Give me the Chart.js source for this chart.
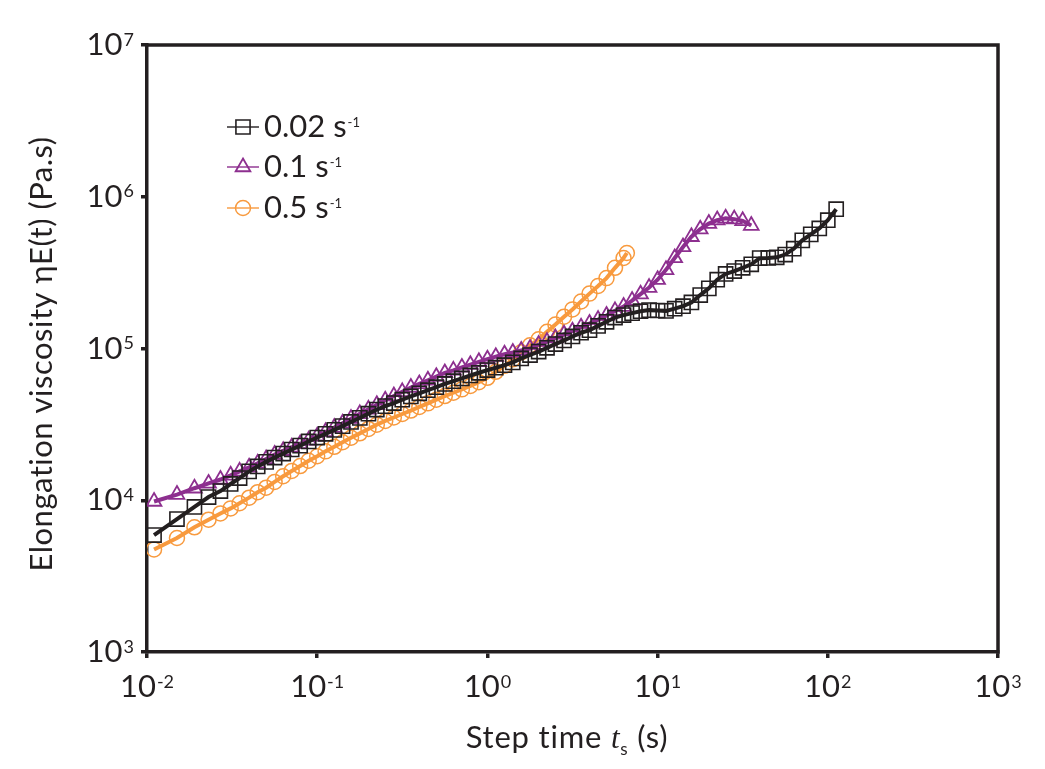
<!DOCTYPE html>
<html>
<head>
<meta charset="utf-8">
<script src="https://cdn.jsdelivr.net/npm/chart.js@4.4.1/dist/chart.umd.min.js"></script>
<style>
  html, body { margin: 0; padding: 0; background: #fff; }
  #wrap { width: 1045px; height: 769px; position: relative; }
</style>
</head>
<body>
<div id="wrap"><canvas id="viscChart"></canvas></div>
<script>
const FONT = 'Lato, "DejaVu Sans", sans-serif';
const INK = '#231f20';

// step time (s) / elongation viscosity (Pa.s)
const time002 = [0.011, 0.015, 0.019, 0.023, 0.027, 0.031, 0.035,
  0.0398, 0.0447, 0.0501, 0.0562, 0.0631, 0.0708, 0.0794, 0.0891,
  0.1, 0.112, 0.126, 0.141, 0.158, 0.178, 0.2, 0.224, 0.251, 0.282, 0.316, 0.355, 0.398, 0.447, 0.501, 0.562, 0.631, 0.708, 0.794, 0.891,
  1.0, 1.12, 1.26, 1.41, 1.58, 1.78, 2.0, 2.24, 2.51, 2.82, 3.16, 3.55, 3.98, 4.47, 5.01, 5.62, 6.31, 7.08, 7.94, 8.91,
  10, 11.2, 12.6, 14.1, 15.8, 17.8, 20, 22.4, 25.1, 28.2, 31.6, 35.5, 39.8, 44.7, 50.1, 56.2, 63.1, 70.8, 79.4, 89.1,
  100, 112];
const visc002 = [5.90e3, 7.52e3, 9.03e3, 1.05e4, 1.15e4, 1.28e4, 1.40e4,
  1.55e4, 1.67e4, 1.79e4, 1.91e4, 2.03e4, 2.16e4, 2.29e4, 2.44e4,
  2.59e4, 2.74e4, 2.91e4, 3.08e4, 3.28e4, 3.49e4, 3.72e4, 3.96e4, 4.17e4, 4.37e4, 4.60e4, 4.83e4, 5.07e4, 5.31e4, 5.56e4, 5.84e4, 6.09e4, 6.35e4, 6.64e4, 6.92e4,
  7.21e4, 7.47e4, 7.76e4, 8.10e4, 8.60e4, 9.06e4, 9.54e4, 1.01e5, 1.07e5, 1.13e5, 1.20e5, 1.27e5, 1.32e5, 1.41e5, 1.50e5, 1.60e5, 1.66e5, 1.71e5, 1.76e5, 1.79e5,
  1.78e5, 1.77e5, 1.83e5, 1.90e5, 2.01e5, 2.25e5, 2.49e5, 2.84e5, 3.10e5, 3.24e5, 3.40e5, 3.59e5, 3.94e5, 3.95e5, 3.99e5, 4.16e5, 4.55e5, 5.16e5, 5.65e5, 6.18e5,
  7.01e5, 8.28e5];

const time01 = [0.011, 0.015, 0.019, 0.023, 0.027, 0.031, 0.035,
  0.0398, 0.0447, 0.0501, 0.0562, 0.0631, 0.0708, 0.0794, 0.0891,
  0.1, 0.112, 0.126, 0.141, 0.158, 0.178, 0.2, 0.224, 0.251, 0.282, 0.316, 0.355, 0.398, 0.447, 0.501, 0.562, 0.631, 0.708, 0.794, 0.891,
  1.0, 1.12, 1.26, 1.41, 1.58, 1.78, 2.0, 2.24, 2.51, 2.82, 3.16, 3.55, 3.98, 4.47, 5.01, 5.62, 6.31, 7.08, 7.94, 8.91,
  10, 11.2, 12.6, 14.1, 15.8, 17.8, 20, 22.4, 25.1, 28.2, 31.6, 35.5];
const visc01 = [9.81e3, 1.09e4, 1.20e4, 1.29e4, 1.37e4, 1.46e4, 1.55e4,
  1.65e4, 1.75e4, 1.87e4, 2.00e4, 2.12e4, 2.23e4, 2.35e4, 2.48e4,
  2.64e4, 2.82e4, 3.01e4, 3.22e4, 3.45e4, 3.71e4, 3.97e4, 4.26e4, 4.56e4, 4.86e4, 5.18e4, 5.53e4, 5.84e4, 6.17e4, 6.52e4, 6.90e4, 7.18e4, 7.50e4, 7.82e4, 8.17e4,
  8.50e4, 8.83e4, 9.17e4, 9.41e4, 9.70e4, 1.00e5, 1.06e5, 1.11e5, 1.17e5, 1.24e5, 1.30e5, 1.38e5, 1.46e5, 1.55e5, 1.65e5, 1.77e5, 1.89e5, 2.07e5, 2.28e5, 2.52e5,
  2.84e5, 3.30e5, 3.95e5, 4.67e5, 5.45e5, 6.11e5, 6.66e5, 7.02e5, 7.21e5, 7.12e5, 6.94e5, 6.46e5];

const time05 = [0.011, 0.015, 0.019, 0.023, 0.027, 0.031, 0.035,
  0.0398, 0.0447, 0.0501, 0.0562, 0.0631, 0.0708, 0.0794, 0.0891,
  0.1, 0.112, 0.126, 0.141, 0.158, 0.178, 0.2, 0.224, 0.251, 0.282, 0.316, 0.355, 0.398, 0.447, 0.501, 0.562, 0.631, 0.708, 0.794, 0.891,
  1.0, 1.12, 1.26, 1.41, 1.58, 1.78, 2.0, 2.24, 2.51, 2.82, 3.16, 3.55, 3.98, 4.47, 5.01, 5.62, 6.31, 6.6];
const visc05 = [4.74e3, 5.64e3, 6.63e3, 7.45e3, 8.19e3, 8.84e3, 9.56e3,
  1.04e4, 1.13e4, 1.21e4, 1.32e4, 1.44e4, 1.56e4, 1.68e4, 1.82e4,
  1.95e4, 2.10e4, 2.25e4, 2.41e4, 2.58e4, 2.76e4, 2.95e4, 3.15e4, 3.33e4, 3.51e4, 3.70e4, 3.90e4, 4.12e4, 4.35e4, 4.60e4, 4.86e4, 5.11e4, 5.38e4, 5.66e4, 6.00e4,
  6.41e4, 7.02e4, 7.69e4, 8.48e4, 9.44e4, 1.05e5, 1.15e5, 1.29e5, 1.44e5, 1.62e5, 1.81e5, 2.04e5, 2.30e5, 2.58e5, 2.91e5, 3.40e5, 3.95e5, 4.26e5];

const rateLabels = ['0.02', '0.1', '0.5'];   // strain rate, s^-1
const xTickExponents = [-2, -1, 0, 1, 2, 3];
const yTickExponents = [3, 4, 5, 6, 7];

const toPoints = (xs, ys) => xs.map((x, i) => ({ x: x, y: ys[i] }));

function drawMarker(ctx, style, r, x, y) {
    ctx.beginPath();
    if (style === 'rect') {
        const h = r * Math.SQRT1_2;
        ctx.rect(x - h, y - h, 2 * h, 2 * h);
    } else if (style === 'triangle') {
        ctx.moveTo(x, y - r);
        ctx.lineTo(x + r * Math.sin(2 * Math.PI / 3), y - r * Math.cos(2 * Math.PI / 3));
        ctx.lineTo(x + r * Math.sin(4 * Math.PI / 3), y - r * Math.cos(4 * Math.PI / 3));
        ctx.closePath();
    } else {
        ctx.arc(x, y, r, 0, Math.PI * 2);
    }
    ctx.stroke();
}

// "10" with a raised exponent; anchor is centre or right edge
function drawPower(ctx, exp, x, baseY, align) {
    const big = 31, small = 18;
    ctx.font = big + 'px ' + FONT;
    const wBase = ctx.measureText('10').width;
    ctx.font = small + 'px ' + FONT;
    const wExp = ctx.measureText(String(exp)).width;
    const total = wBase + 1 + wExp;
    const x0 = align === 'right' ? x - total : x - total / 2;
    ctx.textAlign = 'left';
    ctx.textBaseline = 'alphabetic';
    ctx.font = big + 'px ' + FONT;
    ctx.fillText('10', x0, baseY);
    ctx.font = small + 'px ' + FONT;
    ctx.fillText(String(exp), x0 + wBase + 1, baseY - 0.72 * (big - small));
}

const framePlugin = {
    id: 'frame',
    afterDraw(chart) {
        const { ctx, chartArea: a } = chart;
        ctx.save();
        ctx.strokeStyle = INK;
        ctx.lineWidth = 3.5;
        ctx.lineCap = 'square';
        ctx.beginPath();
        ctx.moveTo(a.left, a.top);
        ctx.lineTo(a.right, a.top);
        ctx.lineTo(a.right, a.bottom);
        ctx.stroke();
        ctx.restore();
    }
};

const labelPlugin = {
    id: 'powerLabels',
    afterDraw(chart) {
        const ctx = chart.ctx;
        const xs = chart.scales.x, ys = chart.scales.y;
        ctx.save();
        ctx.fillStyle = INK;
        xs.ticks.forEach(t => {
            const e = Math.round(Math.log10(t.value));
            drawPower(ctx, e, xs.getPixelForValue(t.value), 697, 'center');
        });
        ys.ticks.forEach(t => {
            const e = Math.round(Math.log10(t.value));
            drawPower(ctx, e, 134, ys.getPixelForValue(t.value) + 10, 'right');
        });

        // x title: Step time t_s (s)
        ctx.letterSpacing = '0.8px';
        const parts = [
            { s: 'Step time ', f: '31px ' + FONT, dy: 0 },
            { s: 't', f: 'italic 31px "Liberation Serif", serif', dy: 0 },
            { s: 's', f: '17px ' + FONT, dy: 7 },
            { s: ' (s)', f: '31px ' + FONT, dy: 0 }
        ];
        let w = 0;
        parts.forEach(p => { ctx.font = p.f; p.w = ctx.measureText(p.s).width; w += p.w; });
        let x = 567 - w / 2;
        ctx.textAlign = 'left';
        ctx.textBaseline = 'alphabetic';
        parts.forEach(p => { ctx.font = p.f; ctx.fillText(p.s, x, 748 + p.dy); x += p.w; });

        // y title
        ctx.letterSpacing = '0.5px';
        ctx.translate(52, 354);
        ctx.rotate(-Math.PI / 2);
        ctx.textAlign = 'center';
        ctx.font = '31px ' + FONT;
        ctx.fillText('Elongation viscosity \u03B7E(t) (Pa.s)', 0, 0);
        ctx.restore();
    }
};

const legendPlugin = {
    id: 'insideLegend',
    afterDraw(chart) {
        const ctx = chart.ctx;
        const rows = [127, 167, 208];
        ctx.save();
        chart.data.datasets.forEach((ds, i) => {
            const y = rows[i];
            ctx.strokeStyle = ds.borderColor;
            ctx.lineWidth = 1.4;
            ctx.beginPath();
            ctx.moveTo(227, y);
            ctx.lineTo(259, y);
            ctx.stroke();
            ctx.lineWidth = ds.pointBorderWidth;
            drawMarker(ctx, ds.pointStyle, ds.pointRadius, 243, y);

            ctx.fillStyle = INK;
            ctx.textAlign = 'left';
            ctx.textBaseline = 'alphabetic';
            ctx.font = '31px ' + FONT;
            const txt = rateLabels[i] + ' s';
            ctx.fillText(txt, 264, y + 10);
            const tw = ctx.measureText(txt).width;
            ctx.font = '13px ' + FONT;
            ctx.fillText('-1', 264 + tw + 1, y);
        });
        ctx.restore();
    }
};

function series(label, xs, ys, color, style, radius, bw) {
    return {
        label: label,
        data: toPoints(xs, ys),
        showLine: true,
        borderColor: color,
        borderWidth: 4,
        pointStyle: style,
        pointRadius: radius,
        pointBorderWidth: bw,
        pointBorderColor: color,
        pointBackgroundColor: 'rgba(0,0,0,0)',
        tension: 0
    };
}

const axisGrid = { drawOnChartArea: false, drawTicks: true, tickLength: 6, lineWidth: 3.5, color: INK };
const axisBorder = { display: true, width: 3.5, color: INK };

new Chart(document.getElementById('viscChart'), {
    type: 'scatter',
    data: {
        datasets: [
            series(rateLabels[0] + ' s-1', time002, visc002, '#231f20', 'rect', 10, 1.6),
            series(rateLabels[1] + ' s-1', time01, visc01, '#8d2f8f', 'triangle', 8.5, 1.8),
            series(rateLabels[2] + ' s-1', time05, visc05, '#f89a3e', 'circle', 7.5, 1.5)
        ]
    },
    options: {
        responsive: true,
        maintainAspectRatio: false,
        animation: false,
        layout: { autoPadding: false, padding: { left: 0, top: 45, right: 47, bottom: 0 } },
        plugins: { legend: { display: false }, tooltip: { enabled: false } },
        scales: {
            x: {
                type: 'logarithmic',
                position: 'bottom',
                min: 1e-2,
                max: 1e3,
                afterBuildTicks: s => { s.ticks = xTickExponents.map(e => ({ value: Math.pow(10, e) })); },
                afterFit: s => { s.height = 117; },
                ticks: { display: false },
                grid: axisGrid,
                border: axisBorder
            },
            y: {
                type: 'logarithmic',
                position: 'left',
                min: 1e3,
                max: 1e7,
                afterBuildTicks: s => { s.ticks = yTickExponents.map(e => ({ value: Math.pow(10, e) })); },
                afterFit: s => { s.width = 147; },
                ticks: { display: false },
                grid: axisGrid,
                border: axisBorder
            }
        }
    },
    plugins: [framePlugin, labelPlugin, legendPlugin]
});
</script>
</body>
</html>
